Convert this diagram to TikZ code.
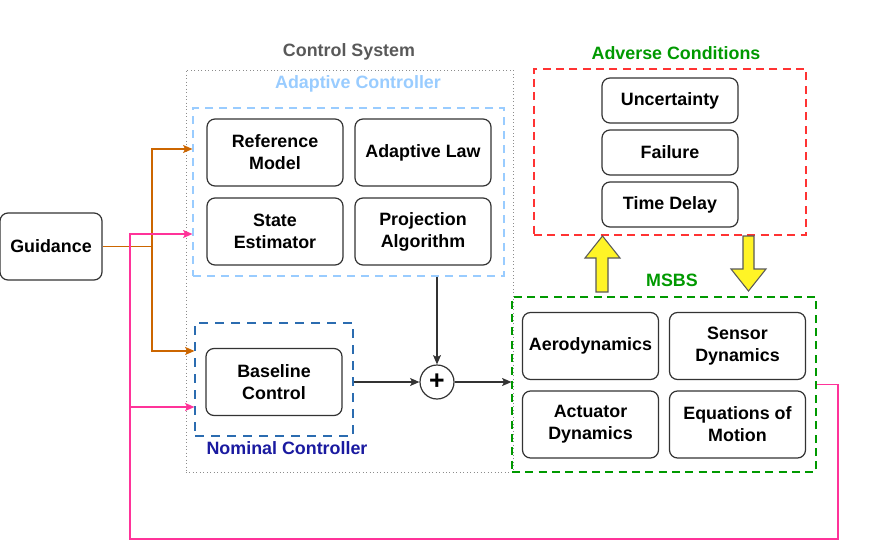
\documentclass[tikz,border=0pt]{standalone}
\usepackage{fontspec}
\setmainfont{Liberation Sans}
\usetikzlibrary{arrows.meta,positioning,calc}
\newcommand{\pxunit}{0.75pt}
\definecolor{boxgray}{HTML}{333333}
\definecolor{sysgray}{HTML}{595959}
\definecolor{adblue}{HTML}{99CCFF}
\definecolor{nomblue}{HTML}{2B6CB0}
\definecolor{nomtext}{HTML}{1A1AA0}
\definecolor{msgreen}{HTML}{009900}
\definecolor{advred}{HTML}{FF3333}
\definecolor{guidorange}{HTML}{CC6600}
\definecolor{fbpink}{HTML}{FF3399}
\tikzset{
    txtsty/.style={font=\fontsize{13.4pt}{16.5pt}\selectfont\bfseries, align=center},
    blksty/.style={txtsty, draw=boxgray, line width=0.9pt, rounded corners=6pt, minimum width=102pt, minimum height=50.25pt, inner sep=0pt},
    advsty/.style={blksty, minimum height=33.75pt},
    lblsty/.style={txtsty, inner sep=0pt},
    syssty/.style={draw=black!45, dotted, line width=0.6pt, minimum width=245.25pt, minimum height=301.5pt, inner sep=0pt},
    adsty/.style={draw=adblue, dash pattern=on 6pt off 4.5pt, line width=0.8pt, minimum width=233.25pt, minimum height=126pt, inner sep=0pt},
    nomsty/.style={draw=nomblue, dash pattern=on 7pt off 5pt, line width=0.8pt, minimum width=118.5pt, minimum height=84.75pt, inner sep=0pt},
    mssty/.style={draw=msgreen, dash pattern=on 6pt off 4pt, line width=0.8pt, minimum width=228pt, minimum height=131.25pt, inner sep=0pt},
    advbsty/.style={draw=advred, dash pattern=on 6pt off 4pt, line width=0.8pt, minimum width=204pt, minimum height=124.5pt, inner sep=0pt},
    sumsty/.style={font=\fontsize{20pt}{20pt}\selectfont\bfseries, draw=boxgray, line width=0.9pt, circle, minimum size=25.5pt, inner sep=0pt},
    sigsty/.style={->, draw=boxgray, line width=0.8pt},
    orgsty/.style={->, draw=guidorange, line width=0.8pt},
    pnksty/.style={->, draw=fbpink, line width=0.9pt},
    yarrsty/.style={fill=yellow!85!white, draw=black!65, line width=0.8pt},
}

\begin{document}
\begin{tikzpicture}[>={Stealth[length=7pt,width=6pt,inset=1.5pt]}, x=\pxunit, y=-\pxunit]
  \useasboundingbox (0,0) rectangle (872,550);

  % containers
  \node[syssty] (ctrlsys) at (349.5,271) {};
  \node[adsty] (adbox) at (348.5,192) {};
  \node[nomsty] (nombox) at (274,379.5) {};
  \node[mssty] (msbs) at (664,384.5) {};
  \node[advbsty] (advbox) at (670,152) {};

  \node[lblsty, text=sysgray] (syslbl) at (349,52) {Control System};
  \node[lblsty, text=adblue] (adlbl) at (358,84) {Adaptive Controller};
  \node[lblsty, text=nomtext] (nomlbl) at (287,448) {Nominal Controller};
  \node[lblsty, text=msgreen] (mslbl) at (672,280) {MSBS};
  \node[lblsty, text=msgreen] (advlbl) at (676,53) {Adverse Conditions};

  % blocks
  \node[blksty, minimum width=76.5pt] (guid) at (51,246.5) {Guidance};
  \node[blksty] (refm) at (275,152.5) {Reference\\Model};
  \node[blksty] (adlaw) at (423,152.5) {Adaptive Law};
  \node[blksty] (stest) at (275,231.5) {State\\Estimator};
  \node[blksty] (proj) at (423,231.5) {Projection\\Algorithm};
  \node[blksty] (bsln) at (274,382) {Baseline\\Control};
  \node[sumsty] (sum) at (437,382) {+};
  \node[blksty] (aero) at (590.5,346) {Aerodynamics};
  \node[blksty] (sens) at (737.5,346) {Sensor\\Dynamics};
  \node[blksty] (actd) at (590.5,424.5) {Actuator\\Dynamics};
  \node[blksty] (eom) at (737.5,424.5) {Equations of\\Motion};
  \node[advsty] (unc) at (670,100.5) {Uncertainty};
  \node[advsty] (fail) at (670,152.5) {Failure};
  \node[advsty] (tdel) at (670,204.5) {Time Delay};

  % signal path
  \draw[sigsty] (adbox.south -| sum) -- (sum.north);
  \draw[sigsty] (nombox.east |- sum) -- (sum.west);
  \draw[sigsty] (sum.east) -- (msbs.west |- sum);

  % guidance
  \coordinate (gfork) at (152,246.5);
  \draw[orgsty] (guid.east) -- (gfork) |- ([yshift=32.25pt]adbox.west);
  \draw[orgsty] (gfork) |- ([yshift=21.4pt]nombox.west);

  % feedback
  \coordinate (fbR) at (838,539);
  \coordinate (fbL) at (130,539);
  \draw[pnksty] (msbs.east) -| (fbR) -- (fbL) |- ([yshift=-31.5pt]adbox.west);
  \draw[pnksty] (fbL |- 0,407) -- (nombox.west |- 0,407);

  % adverse conditions exchange
  \draw[yarrsty] (596,292) -- (596,258) -- (585,258) -- (602.5,236) -- (620,258) -- (608,258) -- (608,292) -- cycle;
  \draw[yarrsty] (743,236) -- (743,269) -- (731,269) -- (748.5,291) -- (766,269) -- (754,269) -- (754,236) -- cycle;
\end{tikzpicture}
\end{document}
